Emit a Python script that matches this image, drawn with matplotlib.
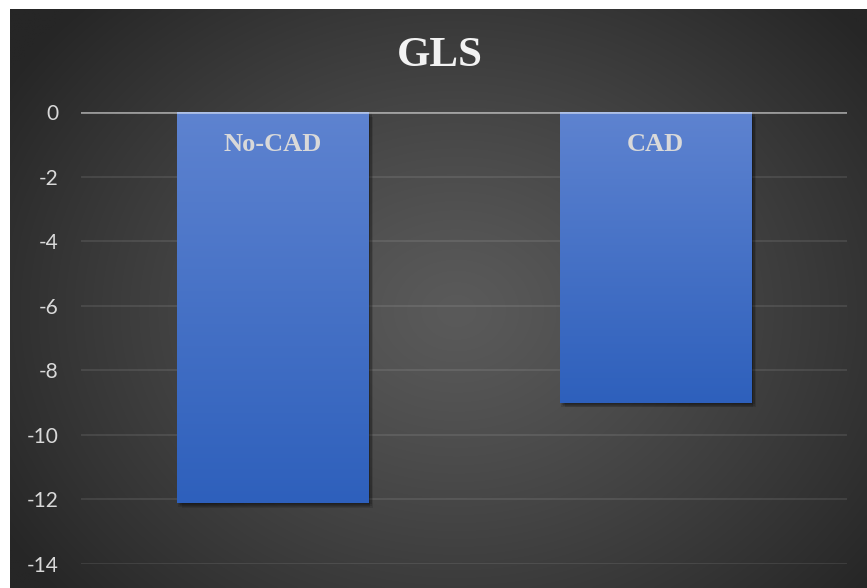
import numpy as np
import matplotlib
matplotlib.use("Agg")
import matplotlib.pyplot as plt
from matplotlib import patheffects as pe

categories = ["No-CAD", "CAD"]
values = [-12.1, -9.0]
yticks = [0, -2, -4, -6, -8, -10, -12, -14]
title = "GLS"

W, H = 867, 588
fig = plt.figure(figsize=(W / 100, H / 100), dpi=100)
fig.patch.set_facecolor("white")

# background panel with radial gradient
bg = fig.add_axes([10 / W, 0, (W - 10) / W, (H - 9) / H])
bg.set_axis_off()
ny, nx = 300, 440
yy, xx = np.mgrid[0:ny, 0:nx]
cx, cy = nx * 0.52, ny * 0.52
r = np.sqrt(((xx - cx) / (nx * 0.62)) ** 2 + ((yy - cy) / (ny * 0.75)) ** 2)
r = np.clip(r, 0, 1)
inner, outer = 0x5a / 255, 0x26 / 255
val = inner + (outer - inner) * r ** 1.2
img = np.dstack([val, val, val])
bg.imshow(img, aspect="auto", extent=[0, 1, 0, 1], interpolation="bilinear")
bg.set_xlim(0, 1)
bg.set_ylim(0, 1)

ax = fig.add_axes([81 / W, 24 / H, (847 - 81) / W, (564 - 112) / H])
ax.patch.set_alpha(0)
ax.set_xlim(-0.5, 1.5)
ax.set_ylim(-14, 0)
ax.set_yticks(yticks)
ax.set_yticklabels([str(t) for t in yticks], fontsize=15, color="#d9d9d9", family=["Lato", "DejaVu Sans"])
ax.set_xticks([])
ax.tick_params(axis="y", length=0, pad=16)
for s in ax.spines.values():
    s.set_visible(False)
for t in yticks[1:]:
    ax.axhline(t, color="white", alpha=0.09, lw=1.5, zorder=1)

x = np.arange(len(categories))
shadow = [pe.SimplePatchShadow(offset=(ox, oy), shadow_rgbFace="black", alpha=0.12)
          for ox, oy in [(0.5, -0.5), (1.5, -1.5), (2.5, -2.5), (3.5, -3.5), (1, -3), (3, -1)]]
bars = ax.bar(x, values, width=0.5, color="#4472c4", zorder=2,
              path_effects=shadow + [pe.Normal()])

grad = np.linspace(0, 1, 256).reshape(-1, 1)
top = np.array([94, 131, 208]) / 255
bot = np.array([46, 96, 188]) / 255
gimg = top[None, None, :] * (1 - grad[:, :, None]) + bot[None, None, :] * grad[:, :, None]
for b, v in zip(bars, values):
    x0 = b.get_x()
    w = b.get_width()
    im = ax.imshow(gimg, aspect="auto", extent=[x0, x0 + w, v, 0], zorder=3, interpolation="bilinear")
    im.set_clip_path(b)

ax.axhline(0, color="white", alpha=0.5, lw=2, zorder=4)

for xi, c in zip(x, categories):
    ax.text(xi, -1.0, c, ha="center", va="center", fontsize=19, fontweight="bold",
            color="#d9d9d9", family=["Liberation Serif", "DejaVu Serif"], zorder=5)

ax.set_xlim(-0.5, 1.5)
ax.set_ylim(-14, 0)

fig.text(440 / W, 1 - 56 / H, title, ha="center", va="center", fontsize=31, fontweight="bold",
         color="#f2f2f2", family=["Liberation Serif", "DejaVu Serif"])

fig.savefig("out.png", dpi=100, facecolor="white")
